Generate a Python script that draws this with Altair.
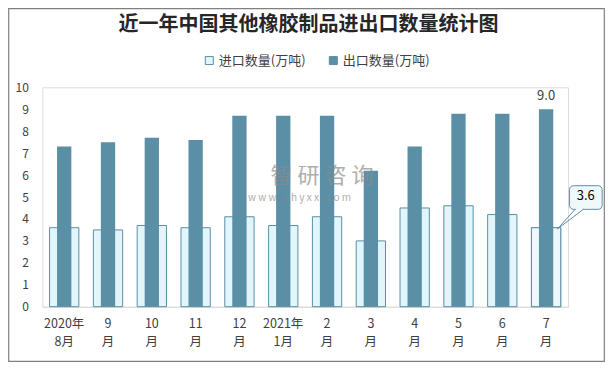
import altair as alt
import pandas as pd

# ---- data ----
months = ["2020年|8月", "9|月", "10|月", "11|月", "12|月", "2021年|1月",
          "2|月", "3|月", "4|月", "5|月", "6|月", "7|月"]
imports = [3.6, 3.5, 3.7, 3.6, 4.1, 3.7, 4.1, 3.0, 4.5, 4.6, 4.2, 3.6]
exports = [7.3, 7.5, 7.7, 7.6, 8.7, 8.7, 8.7, 6.2, 7.3, 8.8, 8.8, 9.0]
series = ["进口数量(万吨)", "出口数量(万吨)"]
title_text = "近一年中国其他橡胶制品进出口数量统计图"
y_ticks = list(range(0, 11))

rows = []
for i, m in enumerate(months):
    rows.append({"month": m, "series": series[0], "value": imports[i], "idx": i})
    rows.append({"month": m, "series": series[1], "value": exports[i], "idx": i})
df = pd.DataFrame(rows)
last = len(months) - 1

FONT = "Noto Sans CJK SC"
STEEL = "#5B8FA6"
LIGHT = "#E1F5FB"
TXT = "#404040"

W, H = 525.7, 219.4
PADL, PADT = 34.3, 79.3
TOTW, TOTH = 597, 354

xenc = alt.X("month:N", sort=months, scale=alt.Scale(paddingInner=0, paddingOuter=0),
             axis=alt.Axis(title=None, labelAngle=0, ticks=False, domainColor="#D9D9D9",
                           labelPadding=11, labelFontSize=12.5, labelFont=FONT,
                           labelColor=TXT, labelLineHeight=18,
                           labelExpr="split(datum.label, '|')"))
yenc = alt.Y("value:Q", scale=alt.Scale(domain=[0, 10], nice=False),
             axis=alt.Axis(title=None, values=y_ticks, grid=False, domain=False, ticks=False,
                           labelPadding=14, labelFontSize=12, labelFont=FONT, labelColor=TXT))

base = alt.Chart(df)

fill_enc = alt.Fill("series:N", scale=alt.Scale(domain=series, range=[LIGHT, STEEL]),
                    sort=series,
                    legend=alt.Legend(orient="none", legendX=160.5, legendY=-33.5,
                                      direction="horizontal", title=None, symbolType="square",
                                      symbolSize=64, labelFontSize=13, labelFont=FONT,
                                      labelColor=TXT, labelOffset=3, columnPadding=21,
                                      symbolStrokeColor=STEEL, symbolStrokeWidth=1))

imp = base.transform_filter(alt.datum.series == series[0]).mark_bar(
    size=29.3, stroke=STEEL, strokeWidth=1).encode(x=xenc, y=yenc, fill=fill_enc)

imp_last = base.transform_filter(
    (alt.datum.series == series[0]) & (alt.datum.idx == last)).mark_bar(
    size=29.3, stroke=STEEL, strokeWidth=1, fill="#EDF8FA").encode(x=xenc, y=yenc)

exp = base.transform_filter(alt.datum.series == series[1]).mark_bar(
    size=14.3, strokeWidth=0).encode(x=xenc, y=yenc, fill=fill_enc)

exp_label = base.transform_filter(
    (alt.datum.series == series[1]) & (alt.datum.idx == last)).mark_text(
    dy=-13.5, baseline="middle", fontSize=13, font=FONT, color=TXT).encode(
    x=xenc, y=yenc, text=alt.Text("value:Q", format=".1f"))

lastimp = base.transform_filter((alt.datum.series == series[0]) & (alt.datum.idx == last))

box = lastimp.mark_rect(width=32.7, xOffset=39.7, yOffset=-42, y2Offset=-18.4,
                        cornerRadius=4, fill="#F0F9FA", stroke=STEEL, strokeWidth=1).encode(
    x=xenc, y=yenc, y2=alt.Y2("value:Q"))
ptr1 = lastimp.mark_rule(color=STEEL, strokeWidth=1, xOffset=29, x2Offset=11.3,
                         yOffset=-18.4, y2Offset=1.3).encode(
    x=xenc, x2=alt.X2("month:N"), y=yenc, y2=alt.Y2("value:Q"))
ptr2 = lastimp.mark_rule(color=STEEL, strokeWidth=1, xOffset=37.3, x2Offset=11.3,
                         yOffset=-18.4, y2Offset=1.3).encode(
    x=xenc, x2=alt.X2("month:N"), y=yenc, y2=alt.Y2("value:Q"))
cover = lastimp.mark_rect(width=7, xOffset=33.2, yOffset=-19.6, y2Offset=-17.6,
                          fill="#F0F9FA", strokeWidth=0).encode(
    x=xenc, y=yenc, y2=alt.Y2("value:Q"))
box_text = lastimp.mark_text(dx=39.7, dy=-31.7, baseline="middle", fontSize=13,
                             font=FONT, color="#000000").encode(
    x=xenc, y=yenc, text=alt.Text("value:Q", format=".1f"))

one = pd.DataFrame({"t": [title_text]})
title = alt.Chart(one).mark_text(fontSize=20, fontWeight="bold", font=FONT,
                                 color="#262626", baseline="middle").encode(
    x=alt.value(266.3), y=alt.value(-62.3), text="t:N")

wm = pd.DataFrame({"a": ["智 研 咨 询"], "b": ["w w w . c h y x x . c o m"]})
wm1 = alt.Chart(wm).mark_text(fontSize=22, font=FONT, color="#8C8C8C", opacity=0.7,
                              baseline="middle").encode(
    x=alt.value(322 - 42.3), y=alt.value(175.5 - 87.3), text="a:N")
wm2 = alt.Chart(wm).mark_text(fontSize=10, font=FONT, color="#8C8C8C", opacity=0.7,
                              baseline="middle").encode(
    x=alt.value(299.5 - 42.3), y=alt.value(197.5 - 87.3), text="b:N")

frame = alt.Chart(one).mark_rect(fillOpacity=0, stroke="#808080", strokeWidth=1.2).encode(
    x=alt.value(-PADL + 0.7), x2=alt.value(TOTW - PADL - 0.7),
    y=alt.value(-PADT + 0.7), y2=alt.value(TOTH - PADT - 0.7))

chart = alt.layer(frame, imp, imp_last, exp, exp_label, wm1, wm2, box, cover, ptr1, ptr2,
                  box_text, title).properties(
    width=W, height=H,
    autosize=alt.AutoSizeParams(type="none"),
    padding={"left": PADL, "top": PADT, "right": TOTW - PADL - W, "bottom": TOTH - PADT - H},
).resolve_scale(fill="shared").configure_view(stroke=None).configure(background="white")

chart.save("out.html", embed_options={"renderer": "svg", "actions": False})
